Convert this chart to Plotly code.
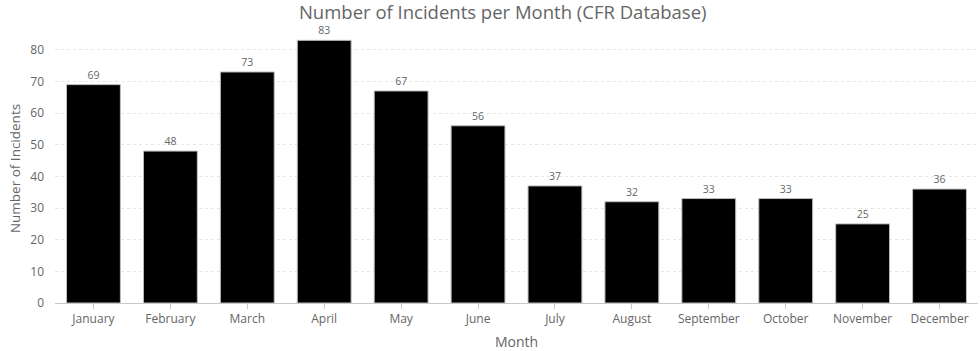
import plotly.graph_objects as go

months = ["January", "February", "March", "April", "May", "June", "July",
          "August", "September", "October", "November", "December"]
incidents = [69, 48, 73, 83, 67, 56, 37, 32, 33, 33, 25, 36]
y_ticks = [0, 10, 20, 30, 40, 50, 60, 70, 80]

FONT = "Open Sans, Noto Sans, sans-serif"
GRAY = "#666666"

fig = go.Figure(
    go.Bar(
        x=months,
        y=incidents,
        marker=dict(color="black", line=dict(color="#bdbdbd", width=1)),
        text=incidents,
        textposition="outside",
        textfont=dict(size=10.5, color=GRAY, family=FONT),
        cliponaxis=False,
    )
)

fig.update_layout(
    width=980,
    height=351,
    margin=dict(l=55, r=2, t=34, b=48),
    paper_bgcolor="white",
    plot_bgcolor="white",
    bargap=0.3,
    showlegend=False,
    font=dict(family=FONT, color=GRAY, size=12),
    title=dict(
        text="Number of Incidents per Month (CFR Database)",
        x=0.513, xref="container", xanchor="center",
        y=0.965, yref="container", yanchor="middle",
        font=dict(size=18.5, color=GRAY, family=FONT),
    ),
)

fig.update_xaxes(
    title=dict(text="Month", font=dict(size=14, color=GRAY), standoff=10),
    tickfont=dict(size=12, color=GRAY),
    showline=True, linecolor="#c8c8c8", linewidth=1,
    ticks="outside", ticklen=5, tickcolor="#c8c8c8",
    showgrid=False,
)

fig.update_yaxes(
    title=dict(text="Number of Incidents", font=dict(size=13.5, color=GRAY), standoff=6),
    range=[0, 85],
    tickvals=y_ticks,
    tickfont=dict(size=12, color=GRAY),
    ticklabelstandoff=10,
    showgrid=True, gridcolor="#e6e6e6", griddash="dot", gridwidth=1,
    zeroline=False,
    showline=False,
)

fig.write_html("out.html")
